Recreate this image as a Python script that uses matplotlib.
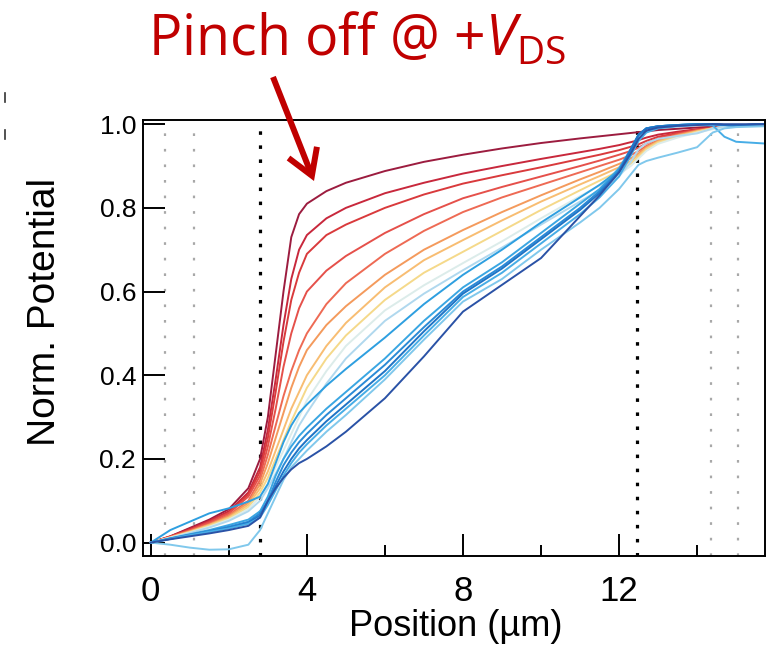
import matplotlib
matplotlib.use("Agg")
import matplotlib.pyplot as plt
from matplotlib.lines import Line2D

# ---------------- data ----------------
position = [0, 0.5, 1, 1.5, 2, 2.5, 2.8, 3.0, 3.2, 3.4, 3.6, 3.8, 4.0, 4.5, 5, 6, 7, 8, 9, 10,
            11, 11.5, 12, 12.3, 12.5, 12.7, 13, 13.5, 14, 14.4, 14.7, 15, 15.7]

c01 = [0, 0.015, 0.035, 0.055, 0.08, 0.13, 0.2, 0.3, 0.45, 0.6, 0.73, 0.785, 0.81, 0.84, 0.86, 0.888, 0.91, 0.927, 0.942, 0.955, 0.966, 0.971, 0.976, 0.979, 0.981, 0.983, 0.986, 0.989, 0.992, 0.994, 0.995, 0.997, 1.0]
c02 = [0, 0.015, 0.033, 0.052, 0.075, 0.12, 0.18, 0.27, 0.39, 0.52, 0.63, 0.7, 0.735, 0.775, 0.8, 0.835, 0.86, 0.882, 0.9, 0.917, 0.933, 0.941, 0.95, 0.957, 0.962, 0.968, 0.975, 0.982, 0.988, 0.992, 0.994, 0.996, 1.0]
c03 = [0, 0.014, 0.03, 0.05, 0.072, 0.115, 0.17, 0.25, 0.36, 0.48, 0.58, 0.645, 0.69, 0.735, 0.76, 0.8, 0.832, 0.858, 0.878, 0.897, 0.917, 0.927, 0.938, 0.946, 0.952, 0.96, 0.97, 0.979, 0.987, 0.991, 0.993, 0.995, 1.0]
c04 = [0, 0.014, 0.03, 0.048, 0.07, 0.11, 0.16, 0.23, 0.32, 0.42, 0.5, 0.56, 0.6, 0.65, 0.685, 0.74, 0.785, 0.823, 0.85, 0.875, 0.9, 0.913, 0.927, 0.936, 0.944, 0.954, 0.966, 0.977, 0.986, 0.99, 0.993, 0.995, 1.0]
c05 = [0, 0.013, 0.028, 0.045, 0.066, 0.1, 0.15, 0.21, 0.28, 0.35, 0.41, 0.46, 0.5, 0.57, 0.62, 0.69, 0.745, 0.79, 0.825, 0.855, 0.885, 0.9, 0.915, 0.926, 0.936, 0.948, 0.962, 0.975, 0.985, 0.99, 0.993, 0.995, 1.0]
c06 = [0, 0.013, 0.027, 0.043, 0.063, 0.095, 0.14, 0.19, 0.25, 0.31, 0.37, 0.42, 0.46, 0.52, 0.565, 0.64, 0.7, 0.747, 0.79, 0.83, 0.868, 0.886, 0.905, 0.918, 0.93, 0.945, 0.96, 0.974, 0.984, 0.99, 0.993, 0.995, 1.0]
c07 = [0, 0.012, 0.026, 0.042, 0.06, 0.09, 0.13, 0.17, 0.22, 0.27, 0.32, 0.36, 0.4, 0.47, 0.525, 0.61, 0.675, 0.723, 0.77, 0.815, 0.856, 0.876, 0.897, 0.912, 0.926, 0.942, 0.958, 0.972, 0.983, 0.99, 0.993, 0.995, 1.0]
c08 = [0, 0.012, 0.025, 0.04, 0.058, 0.085, 0.12, 0.155, 0.2, 0.245, 0.29, 0.33, 0.37, 0.44, 0.495, 0.58, 0.645, 0.695, 0.745, 0.795, 0.842, 0.865, 0.888, 0.906, 0.922, 0.94, 0.956, 0.97, 0.982, 0.99, 0.993, 0.995, 1.0]
c09 = [0, 0.012, 0.024, 0.038, 0.055, 0.08, 0.11, 0.14, 0.18, 0.22, 0.26, 0.3, 0.34, 0.41, 0.47, 0.555, 0.615, 0.668, 0.72, 0.775, 0.828, 0.853, 0.88, 0.9, 0.918, 0.936, 0.953, 0.968, 0.98, 0.988, 0.991, 0.994, 1.0]
c10 = [0, 0.011, 0.023, 0.036, 0.052, 0.075, 0.1, 0.13, 0.165, 0.2, 0.24, 0.28, 0.31, 0.38, 0.44, 0.53, 0.595, 0.651, 0.705, 0.76, 0.815, 0.843, 0.875, 0.91, 0.94, 0.955, 0.965, 0.972, 0.978, 0.99, 0.995, 0.997, 1.0]
c11 = [0, 0.03, 0.05, 0.07, 0.082, 0.098, 0.11, 0.14, 0.19, 0.24, 0.28, 0.31, 0.33, 0.375, 0.415, 0.49, 0.57, 0.64, 0.7, 0.765, 0.825, 0.855, 0.89, 0.935, 0.972, 0.99, 0.995, 0.998, 1.0, 1.0, 0.998, 0.997, 1.0]
c12 = [0, 0.01, 0.02, 0.03, 0.042, 0.055, 0.075, 0.11, 0.16, 0.2, 0.23, 0.255, 0.275, 0.32, 0.36, 0.44, 0.53, 0.61, 0.67, 0.74, 0.81, 0.845, 0.895, 0.94, 0.975, 0.99, 0.995, 0.998, 1.0, 1.0, 0.998, 0.997, 1.0]
c13 = [0, 0.01, 0.019, 0.028, 0.038, 0.05, 0.07, 0.1, 0.145, 0.185, 0.215, 0.24, 0.26, 0.305, 0.345, 0.425, 0.515, 0.6, 0.66, 0.73, 0.8, 0.84, 0.89, 0.94, 0.975, 0.99, 0.995, 0.998, 1.0, 1.0, 0.998, 0.997, 1.0]
c14 = [0, 0.009, 0.018, 0.026, 0.035, 0.047, 0.065, 0.095, 0.135, 0.17, 0.2, 0.225, 0.245, 0.29, 0.33, 0.41, 0.505, 0.595, 0.655, 0.725, 0.795, 0.835, 0.885, 0.94, 0.975, 0.99, 0.995, 0.998, 1.0, 1.0, 0.998, 0.997, 1.0]
c15 = [0, 0.009, 0.018, 0.026, 0.034, 0.045, 0.06, 0.09, 0.125, 0.16, 0.19, 0.215, 0.235, 0.28, 0.32, 0.4, 0.495, 0.587, 0.645, 0.715, 0.785, 0.825, 0.875, 0.925, 0.96, 0.98, 0.99, 0.995, 0.998, 0.997, 0.97, 0.958, 0.954]
c16 = [0, -0.005, -0.012, -0.017, -0.016, -0.005, 0.03, 0.07, 0.11, 0.15, 0.18, 0.2, 0.22, 0.265, 0.305, 0.39, 0.485, 0.576, 0.63, 0.7, 0.765, 0.8, 0.845, 0.88, 0.903, 0.912, 0.92, 0.932, 0.945, 0.98, 0.99, 0.993, 0.995]
c17 = [0, 0.008, 0.015, 0.022, 0.03, 0.04, 0.06, 0.1, 0.13, 0.155, 0.175, 0.19, 0.2, 0.23, 0.265, 0.345, 0.445, 0.552, 0.616, 0.68, 0.78, 0.83, 0.885, 0.93, 0.965, 0.985, 0.992, 0.996, 0.998, 1.0, 1.0, 1.0, 1.0]

curves = [c01, c02, c03, c04, c05, c06, c07, c08, c09, c10, c11, c12, c13, c14, c15, c16, c17]
curve_colors = ['#9c1c3f', '#c8283c', '#d93a3c', '#e5504a', '#ee6a54', '#f49a5c', '#f8bd72',
                '#f5d98a', '#dcecea', '#b0d8ee', '#2e9fe0', '#3aa6e2', '#2a8ad6', '#1f74c6',
                '#47ade6', '#80c8ec', '#2a52a6']

contact_lines = [2.81, 12.45]          # black dotted
electrode_lines = [0.36, 1.11, 14.36, 15.06]  # gray dotted

x_ticks_major = [0, 4, 8, 12]
x_ticks_minor = [2, 6, 10, 14]
y_ticks = [0.0, 0.2, 0.4, 0.6, 0.8, 1.0]

# ---------------- figure ----------------
W, H = 770, 649
fig = plt.figure(figsize=(W / 100, H / 100), dpi=100)
ax = fig.add_axes([143 / W, 1 - 556 / H, (765 - 143) / W, (556 - 120) / H])

for xv in electrode_lines:
    ax.axvline(xv, color='#a8a8a8', lw=1.6, linestyle=(0, (1.2, 5.8)), zorder=1)
for xv in contact_lines:
    ax.axvline(xv, color='black', lw=2.3, linestyle=(0, (1.1, 3.3)), zorder=1)

for yv, col in zip(curves, curve_colors):
    ax.plot(position, yv, color=col, lw=1.4, solid_joinstyle='round', zorder=2)

ax.set_xlim(-0.2, 15.74)
ax.set_ylim(-0.032, 1.01)

sans = ['Liberation Sans', 'DejaVu Sans']
ax.set_xticks(x_ticks_major)
ax.set_xticks(x_ticks_minor, minor=True)
ax.set_xticklabels([str(v) for v in x_ticks_major], family=sans, size=25)
ax.set_yticks(y_ticks)
ax.set_yticklabels([f'{v:.1f}' for v in y_ticks], family=sans, size=19)
ax.tick_params(axis='both', which='major', direction='in', length=16, width=1.4, color='black')
ax.tick_params(axis='x', which='minor', direction='in', length=8, width=1.4)
ax.tick_params(axis='x', which='major', pad=14)
ax.tick_params(axis='y', which='major', pad=5)
for s in ax.spines.values():
    s.set_linewidth(1.4)

xl = ax.set_xlabel('Position (µm)', family=sans, size=26)
xl.set_va('center')
ax.xaxis.set_label_coords((456 - 143) / 622, (556 - 627) / 436)
yl = ax.set_ylabel('Norm. Potential', family=sans, size=28)
yl.set_va('center')
ax.yaxis.set_label_coords((45 - 143) / 622, (556 - 312) / 436)

# title annotation
plt.rcParams['mathtext.fontset'] = 'custom'
plt.rcParams['mathtext.rm'] = 'Open Sans'
plt.rcParams['mathtext.it'] = 'Open Sans:italic'
fig.text(148 / W, 1 - 55 / H, r'Pinch off @ +$\mathit{V}_{\mathrm{DS}}$', color='#c00000',
         family=['Open Sans', 'DejaVu Sans'], size=40, ha='left', va='baseline')

ax.annotate('', xy=(314 / W, 1 - 181 / H), xycoords='figure fraction',
            xytext=(273 / W, 1 - 77 / H), textcoords='figure fraction',
            arrowprops=dict(arrowstyle='->,head_length=0.9,head_width=0.55', color='#c00000',
                            lw=4.3, shrinkA=0, shrinkB=0, mutation_scale=20,
                            joinstyle='miter', capstyle='butt'),
            annotation_clip=False)

# small marks at left edge
for y0, y1 in [(93, 102), (130, 139)]:
    fig.add_artist(Line2D([4.5 / W, 4.5 / W], [1 - y0 / H, 1 - y1 / H], color='#333333', lw=1.2))

fig.savefig('out.png', dpi=100)
